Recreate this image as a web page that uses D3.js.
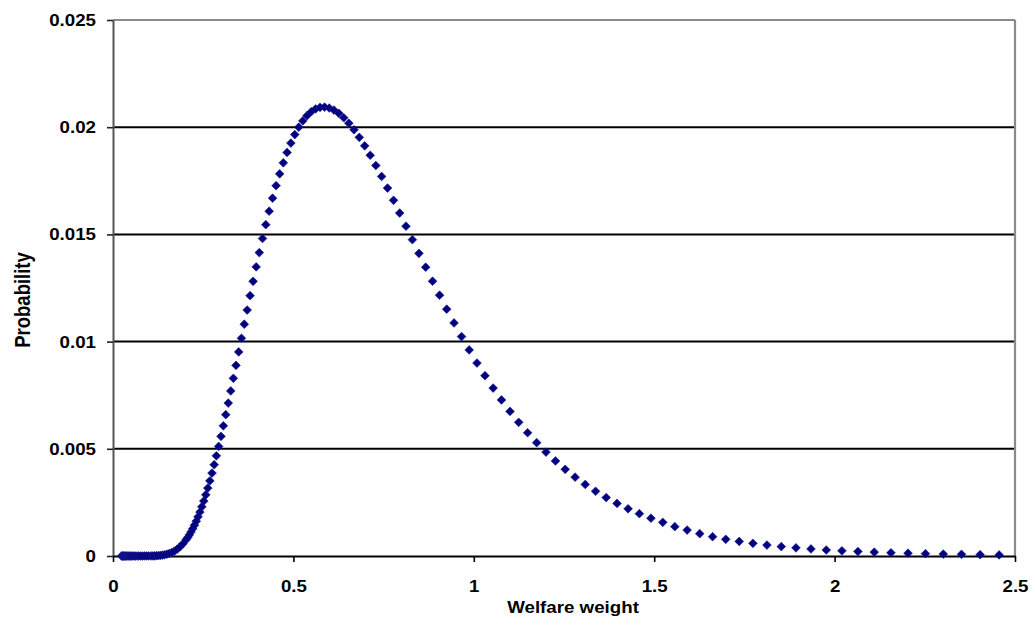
<!DOCTYPE html>
<html>
<head>
<meta charset="utf-8">
<script src="https://cdn.jsdelivr.net/npm/d3@7"></script>
<style>
  body { margin: 0; background: #fff; }
  svg { display: block; font-family: "Liberation Sans", Arial, sans-serif; }
</style>
</head>
<body>
<svg id="chart" width="1035" height="627"></svg>
<script>
// values
const welfareWeight = [
  0.0236, 0.0252, 0.0269, 0.0287, 0.0307, 0.0327, 0.0349, 0.0373, 0.0398, 0.0425,
  0.0453, 0.0484, 0.0516, 0.0551, 0.0588, 0.0627, 0.0670, 0.0715, 0.0763, 0.0814,
  0.0869, 0.0927, 0.0989, 0.1056, 0.1103, 0.1152, 0.1203, 0.1256, 0.1312, 0.1370,
  0.1431, 0.1494, 0.1561, 0.1630, 0.1702, 0.1778, 0.1857, 0.1939, 0.2025, 0.2069,
  0.2115, 0.2161, 0.2209, 0.2257, 0.2307, 0.2357, 0.2409, 0.2462, 0.2516, 0.2571,
  0.2627, 0.2685, 0.2744, 0.2804, 0.2865, 0.2928, 0.2993, 0.3058, 0.3125, 0.3194,
  0.3264, 0.3336, 0.3409, 0.3484, 0.3560, 0.3638, 0.3718, 0.3799, 0.3883, 0.3968,
  0.4055, 0.4144, 0.4235, 0.4328, 0.4423, 0.4520, 0.4619, 0.4720, 0.4824, 0.4930,
  0.5038, 0.5148, 0.5261, 0.5377, 0.5495, 0.5615, 0.5738, 0.5864, 0.5993, 0.6124,
  0.6259, 0.6396, 0.6536, 0.6680, 0.6826, 0.6976, 0.7129, 0.7285, 0.7445, 0.7609,
  0.7775, 0.7946, 0.8120, 0.8298, 0.8480, 0.8666, 0.8857, 0.9051, 0.9249, 0.9452,
  0.9660, 0.9872, 1.0088, 1.0310, 1.0536, 1.0767, 1.1003, 1.1244, 1.1491, 1.1743,
  1.2001, 1.2264, 1.2533, 1.2808, 1.3089, 1.3376, 1.3670, 1.3970, 1.4276, 1.4589,
  1.4910, 1.5237, 1.5571, 1.5913, 1.6262, 1.6618, 1.6983, 1.7356, 1.7736, 1.8125,
  1.8523, 1.8929, 1.9345, 1.9769, 2.0203, 2.0646, 2.1099, 2.1562, 2.2035, 2.2518,
  2.3012, 2.3517, 2.4033, 2.4560
];

const probability = [
  0, 0, 0, 0, 0, 0, 0, 0, 0, 0,
  0, 0, 0, 0, 0, 0, 0, 0, 0, 0,
  0.000001, 0.000001, 0.000002, 0.000003, 0.000004, 0.000008, 0.000013, 0.000019, 0.000028, 0.000041,
  0.000059, 0.000085, 0.000120, 0.000167, 0.000231, 0.000316, 0.000427, 0.000570, 0.000753, 0.000862,
  0.000984, 0.001120, 0.001271, 0.001438, 0.001624, 0.001828, 0.002052, 0.002296, 0.002563, 0.002853,
  0.003166, 0.003504, 0.003867, 0.004257, 0.004672, 0.005113, 0.005580, 0.006073, 0.006592, 0.007134,
  0.007699, 0.008287, 0.008893, 0.009518, 0.010157, 0.010811, 0.011473, 0.012141, 0.012813, 0.013485,
  0.014151, 0.014809, 0.015454, 0.016083, 0.016690, 0.017271, 0.017823, 0.018341, 0.018821, 0.019260,
  0.019654, 0.020000, 0.020295, 0.020537, 0.020723, 0.020853, 0.020925, 0.020938, 0.020895, 0.020798,
  0.020647, 0.020441, 0.020186, 0.019879, 0.019526, 0.019130, 0.018691, 0.018213, 0.017702, 0.017160,
  0.016591, 0.015997, 0.015384, 0.014756, 0.014115, 0.013469, 0.012816, 0.012163, 0.011513, 0.010870,
  0.010234, 0.009610, 0.009000, 0.008408, 0.007832, 0.007278, 0.006745, 0.006235, 0.005748, 0.005284,
  0.004846, 0.004432, 0.004043, 0.003677, 0.003337, 0.003020, 0.002726, 0.002454, 0.002203, 0.001973,
  0.001762, 0.001569, 0.001370, 0.001210, 0.001040, 0.000900, 0.000780, 0.000680, 0.000590, 0.000510,
  0.000440, 0.000380, 0.000330, 0.000280, 0.000240, 0.000210, 0.000180, 0.000150, 0.000130, 0.000110,
  0.000090, 0.000080, 0.000060, 0.000050
];

const xTicks = [0, 0.5, 1, 1.5, 2, 2.5];
const xTickLabels = ['0', '0.5', '1', '1.5', '2', '2.5'];
const yTicks = [0, 0.005, 0.01, 0.015, 0.02, 0.025];
const yTickLabels = ['0', '0.005', '0.01', '0.015', '0.02', '0.025'];

const svg = d3.select('#chart');

const x = d3.scaleLinear().domain([0, 2.5]).range([113, 1015]);
const y = d3.scaleLinear().domain([0, 0.025]).range([556, 20]);

// horizontal grid lines
svg.append('g')
  .selectAll('line')
  .data(yTicks.filter((d) => d > 0 && d < 0.025))
  .join('line')
  .attr('x1', x(0))
  .attr('x2', x(2.5))
  .attr('y1', (d) => y(d))
  .attr('y2', (d) => y(d))
  .attr('stroke', '#000')
  .attr('stroke-width', 2);

// plot border top / right
svg.append('line')
  .attr('x1', x(0)).attr('x2', x(2.5))
  .attr('y1', y(0.025)).attr('y2', y(0.025))
  .attr('stroke', '#8a8a8a').attr('stroke-width', 2.2);
svg.append('line')
  .attr('x1', x(2.5)).attr('x2', x(2.5))
  .attr('y1', y(0.025)).attr('y2', y(0))
  .attr('stroke', '#8a8a8a').attr('stroke-width', 2.2);

// y axis
const yAxis = svg.append('g')
  .attr('transform', `translate(${x(0)},0)`)
  .call(d3.axisLeft(y).tickValues(yTicks).tickFormat((d, i) => yTickLabels[i]).tickSize(6).tickSizeOuter(0));
yAxis.select('.domain').attr('stroke', '#555').attr('stroke-width', 2);
yAxis.selectAll('.tick line').attr('stroke', '#222').attr('stroke-width', 1.6);
yAxis.selectAll('.tick text')
  .attr('x', null)
  .attr('dy', null)
  .attr('transform', 'translate(-17,5.5) scale(1.17,1)')
  .attr('text-anchor', 'end')
  .attr('fill', '#000')
  .style('font-size', '16px')
  .style('font-weight', 'bold')
  .style('font-family', '"Liberation Sans", Arial, sans-serif');

// x axis
const xAxis = svg.append('g')
  .attr('transform', `translate(0,${y(0)})`)
  .call(d3.axisBottom(x).tickValues(xTicks).tickFormat((d, i) => xTickLabels[i]).tickSize(6).tickSizeOuter(0));
xAxis.select('.domain').attr('stroke', '#000').attr('stroke-width', 2.2);
xAxis.selectAll('.tick line').attr('stroke', '#000').attr('stroke-width', 1.6);
xAxis.selectAll('.tick text')
  .attr('y', null)
  .attr('dy', null)
  .attr('transform', 'translate(0,36) scale(1.17,1)')
  .attr('text-anchor', 'middle')
  .attr('fill', '#000')
  .style('font-size', '16px')
  .style('font-weight', 'bold')
  .style('font-family', '"Liberation Sans", Arial, sans-serif');

// points
const points = welfareWeight.map((w, i) => ({ w, p: probability[i] }));
const diamond = d3.symbol().type(d3.symbolSquare).size(38);

svg.append('g')
  .selectAll('path')
  .data(points)
  .join('path')
  .attr('d', diamond)
  .attr('transform', (d) => `translate(${x(d.w)},${y(d.p)}) rotate(45)`)
  .attr('fill', '#000080')
  .attr('stroke', '#1a1a8c')
  .attr('stroke-width', 0.6)
  .attr('stroke-linejoin', 'round');

// axis titles
svg.append('text')
  .attr('transform', 'translate(573,613) scale(1.17,1)')
  .attr('text-anchor', 'middle')
  .style('font-size', '16px')
  .style('font-weight', 'bold')
  .text('Welfare weight');

svg.append('text')
  .attr('transform', 'translate(30,300) scale(1.2,1) rotate(-90)')
  .attr('text-anchor', 'middle')
  .style('font-size', '18.5px')
  .style('font-weight', 'bold')
  .text('Probability');
</script>
</body>
</html>
